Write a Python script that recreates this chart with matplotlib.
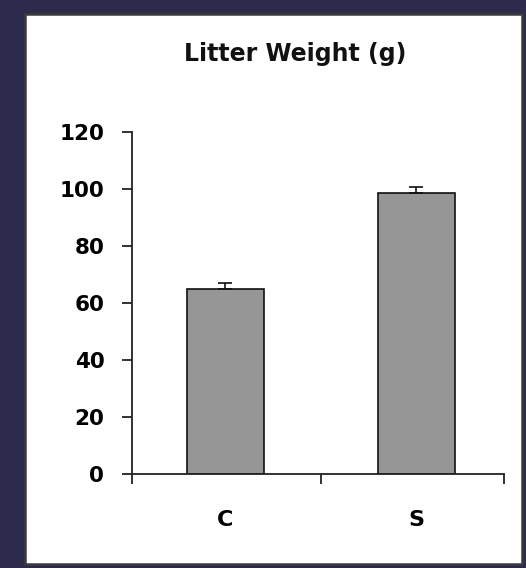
import matplotlib
matplotlib.use("Agg")
import matplotlib.pyplot as plt
from matplotlib.patches import Rectangle

# Data
groups = ["C", "S"]
litter_weight = [64.8, 98.6]
sem_upper = [2.0, 2.0]
y_ticks = [0, 20, 40, 60, 80, 100, 120]

W, H = 526, 568
fig = plt.figure(figsize=(W / 100, H / 100), dpi=100)
fig.patch.set_facecolor("#2c2b4b")

def px(x0, y0, x1, y1):
    """Pixel box (top-left origin) -> figure-fraction rectangle."""
    return x0 / W, 1 - y1 / H, (x1 - x0) / W, (y1 - y0) / H

# White panel with a dark frame, kept behind the axes
l, b, w, h = px(25, 14, 522, 564)
fig.patches.append(Rectangle((l, b), w, h, transform=fig.transFigure,
                             facecolor="white", edgecolor="#3a3a3a",
                             linewidth=1.8, zorder=-10))

ax = fig.add_axes(px(131.7, 131.7, 504.3, 474))
ax.set_facecolor("none")
ax.set_zorder(5)

x = list(range(len(groups)))
ax.bar(x, litter_weight, width=0.4, color="#969696", edgecolor="#111111",
       linewidth=1.2, zorder=2)
ax.errorbar(x, litter_weight, yerr=[[0] * len(x), sem_upper], fmt="none",
            ecolor="#111111", elinewidth=1.2, capsize=5, capthick=1.2, zorder=3)

x_lo, x_hi = -0.49, 1.46
ax.set_xlim(x_lo, x_hi)
ax.set_ylim(0, 120)

for s in ("top", "right"):
    ax.spines[s].set_visible(False)
for s in ("left", "bottom"):
    ax.spines[s].set_color("#222222")
    ax.spines[s].set_linewidth(1.3)

font = dict(family="DejaVu Sans", weight="bold")

ax.set_yticks(y_ticks)
ax.set_yticklabels([str(v) for v in y_ticks], fontsize=15.5, **font)
ax.tick_params(axis="y", direction="out", length=7.2, width=1.3,
               color="#222222", pad=12.5)

# category boundaries as major ticks, category names on minor ticks
ax.set_xticks([x_lo, 0.5, x_hi])
ax.set_xticklabels([])
ax.tick_params(axis="x", which="major", direction="out", length=7.5,
               width=1.3, color="#222222")
ax.set_xticks(x, minor=True)
ax.set_xticklabels(groups, minor=True, fontsize=16, **font)
ax.tick_params(axis="x", which="minor", length=0, pad=26)

fig.text(295.5 / W, 1 - 61 / H, "Litter Weight (g)", ha="center",
         va="baseline", fontsize=17, color="#111111", zorder=6, **font)

fig.savefig("out.png", dpi=100, facecolor=fig.get_facecolor())
